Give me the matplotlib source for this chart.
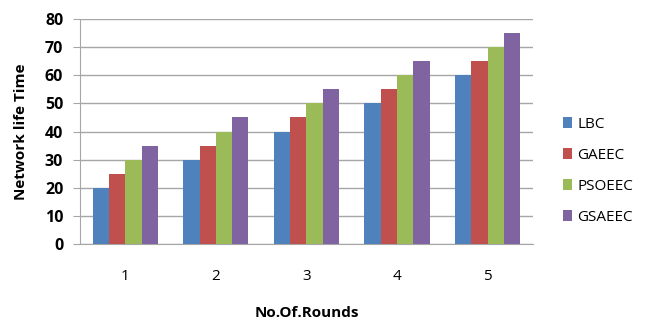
import numpy as np
from matplotlib import pyplot as plt

# rounds on the x axis and network life time per protocol
rounds = ['1', '2', '3', '4', '5']
lbc = [20, 30, 40, 50, 60]
gaeec = [25, 35, 45, 55, 65]
psoeec = [30, 40, 50, 60, 70]
gsaeec = [35, 45, 55, 65, 75]

names = ['LBC', 'GAEEC', 'PSOEEC', 'GSAEEC']
colors = ['#4F81BD', '#C0504D', '#9BBB59', '#8064A2']

plt.rcParams['font.family'] = ['Open Sans', 'DejaVu Sans']

fig = plt.figure(figsize=(6.46, 3.2), dpi=100)
ax = fig.add_axes([0.1238, 0.2375, 0.7012, 0.7031])

x = np.arange(len(rounds))
width = 0.18
for i, (vals, name) in enumerate(zip([lbc, gaeec, psoeec, gsaeec], names)):
    ax.bar(x + (i - 1.5) * width, vals, width, color=colors[i], label=name, zorder=3)

ax.set_xlim(-0.5, len(rounds) - 0.5)
ax.set_ylim(0, 80)
ax.set_yticks(range(0, 81, 10))
ax.set_xticks(x)
ax.set_xticklabels(rounds)

# gray horizontal grid like excel
ax.yaxis.grid(True, color='#A6A6A6', linewidth=1, zorder=0)
for side in ['top', 'right']:
    ax.spines[side].set_visible(False)
ax.spines['left'].set_color('#A6A6A6')
ax.spines['bottom'].set_color('#A6A6A6')
ax.tick_params(axis='y', length=5, color='#A6A6A6', labelsize=11.5, pad=7)
ax.tick_params(axis='x', length=0, labelsize=11, pad=18)
for lab in ax.get_yticklabels():
    lab.set_fontweight('bold')

ax.set_ylabel('Network life Time', fontsize=11, fontweight='bold', labelpad=12)
ax.set_xlabel('No.Of.Rounds', fontsize=11, fontweight='bold', labelpad=16)

ax.legend(loc='center left', bbox_to_anchor=(1.035, 0.325), frameon=False,
          fontsize=11, handlelength=0.65, handleheight=0.65, handletextpad=0.3,
          labelspacing=1.05)

plt.savefig('out.png', dpi=100)
